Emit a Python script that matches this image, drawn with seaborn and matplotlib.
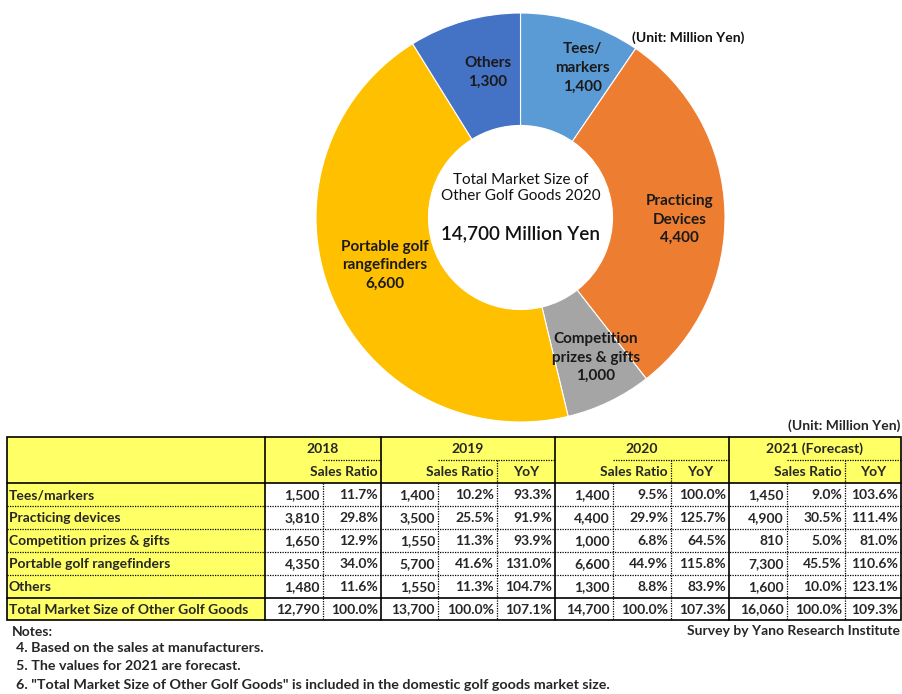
import matplotlib
matplotlib.use("Agg")
import matplotlib.pyplot as plt
import seaborn as sns

sns.set_style("white")
plt.rcParams['font.family'] = ['Lato', 'DejaVu Sans']

# ---------------- data ----------------
pie_labels = ["Tees/\nmarkers", "Practicing\nDevices", "Competition\nprizes & gifts",
              "Portable golf\nrangefinders", "Others"]
pie_values = [1400, 4400, 1000, 6600, 1300]
pie_colors = ["#5B9BD5", "#ED7D31", "#A5A5A5", "#FFC000", "#4472C4"]
center_title = ["Total Market Size of", "Other Golf Goods 2020"]
center_total = "14,700 Million Yen"

categories = ["Tees/markers", "Practicing devices", "Competition prizes & gifts",
              "Portable golf rangefinders", "Others", "Total Market Size of Other Golf Goods"]
years = ["2018", "2019", "2020", "2021 (Forecast)"]
sales_2018 = [1500, 3810, 1650, 4350, 1480, 12790]
ratio_2018 = [11.7, 29.8, 12.9, 34.0, 11.6, 100.0]
sales_2019 = [1400, 3500, 1550, 5700, 1550, 13700]
ratio_2019 = [10.2, 25.5, 11.3, 41.6, 11.3, 100.0]
yoy_2019 = [93.3, 91.9, 93.9, 131.0, 104.7, 107.1]
sales_2020 = [1400, 4400, 1000, 6600, 1300, 14700]
ratio_2020 = [9.5, 29.9, 6.8, 44.9, 8.8, 100.0]
yoy_2020 = [100.0, 125.7, 64.5, 115.8, 83.9, 107.3]
sales_2021 = [1450, 4900, 810, 7300, 1600, 16060]
ratio_2021 = [9.0, 30.5, 5.0, 45.5, 10.0, 100.0]
yoy_2021 = [103.6, 111.4, 81.0, 110.6, 123.1, 109.3]
notes = ["Notes:",
         "4. Based on the sales at manufacturers.",
         "5. The values for 2021 are forecast.",
         "6. \"Total Market Size of Other Golf Goods\" is included in the domestic golf goods market size."]
unit_text = "(Unit: Million Yen)"
source_text = "Survey by Yano Research Institute"

# label nudges in pixels (layout only)
label_nudge = [(16, -1), (4, 7), (8, 0), (8, -12), (10, 4)]

# ---------------- figure ----------------
W, H = 903, 694
fig = plt.figure(figsize=(W / 100, H / 100), dpi=100)
bg = fig.add_axes([0, 0, 1, 1])
bg.set_xlim(0, W)
bg.set_ylim(H, 0)
bg.axis("off")

# donut
cx, cy, R = 520.5, 217.5, 204.5
axp = fig.add_axes([(cx - R) / W, (H - cy - R) / H, 2 * R / W, 2 * R / H])
wedges, texts = axp.pie(
    pie_values, colors=pie_colors, startangle=90, counterclock=False,
    labels=[f"{l}\n{v:,}" for l, v in zip(pie_labels, pie_values)],
    labeldistance=0.76,
    wedgeprops=dict(width=0.55, edgecolor="white", linewidth=0.8),
    textprops=dict(fontsize=11, fontweight="bold", color="#1a1a1a"))
for t, (dx, dy) in zip(texts, label_nudge):
    t.set_ha("center")
    t.set_va("center")
    t.set_linespacing(1.42)
    px, py = t.get_position()
    t.set_position((px + dx / R, py - dy / R))
axp.set_xlim(-1, 1)
axp.set_ylim(-1, 1)
axp.axis("off")

bg.text(cx, 180, center_title[0], ha="center", va="center", fontsize=11, color="#111")
bg.text(cx, 196, center_title[1], ha="center", va="center", fontsize=11, color="#111")
bg.text(cx, 234, center_total, ha="center", va="center", fontsize=13.6, fontweight="semibold", color="#111")
bg.text(632, 38, unit_text, ha="left", va="center", fontsize=10, fontweight="bold", color="#111")

# ---------------- table ----------------
yellow = "#FFFF66"
col_edges = [7, 265, 323, 381, 438, 497, 555, 613, 671, 729, 787, 845, 901]
row_edges = [437, 460, 483, 506, 529, 552, 575, 598, 620]
x0, x1 = col_edges[0], col_edges[-1]
y0, y1 = row_edges[0], row_edges[-1]
fs = 10

bg.add_patch(plt.Rectangle((x0, y0), x1 - x0, row_edges[2] - y0, facecolor=yellow, edgecolor="none"))
bg.add_patch(plt.Rectangle((x0, y0), col_edges[1] - x0, y1 - y0, facecolor=yellow, edgecolor="none"))

lw_s, lw_d = 1.2, 0.9
for y in row_edges[3:7]:
    bg.plot([x0, x1], [y, y], color="black", lw=lw_d, ls=(0, (1, 1)))
groups = [(265, 323, None, 381), (381, 438, 497, 555), (555, 613, 671, 729), (729, 787, 845, 901)]
for (gs, sep1, sep2, ge), yr in zip(groups, years):
    bg.plot([sep1, ge], [row_edges[1]] * 2, color="black", lw=lw_d, ls=(0, (1, 1)))
    bg.plot([sep1, sep1], [row_edges[2], y1], color="black", lw=lw_d, ls=(0, (1, 1)))
    if sep2 is not None:
        bg.plot([sep2, sep2], [row_edges[1], y1], color="black", lw=lw_d, ls=(0, (1, 1)))
    bg.text((gs + ge) / 2, (row_edges[0] + row_edges[1]) / 2 + 0.5, yr, ha="center", va="center",
            fontsize=fs, fontweight="bold")
    ratio_right = sep2 if sep2 is not None else ge
    bg.text(ratio_right - 3, (row_edges[1] + row_edges[2]) / 2 + 0.5, "Sales Ratio", ha="right",
            va="center", fontsize=fs, fontweight="bold")
    if sep2 is not None:
        bg.text((sep2 + ge) / 2, (row_edges[1] + row_edges[2]) / 2 + 0.5, "YoY", ha="center",
                va="center", fontsize=fs, fontweight="bold")
for x in [265, 381, 555, 729]:
    bg.plot([x, x], [y0, y1], color="black", lw=lw_s)
for y in [row_edges[2], row_edges[7]]:
    bg.plot([x0, x1], [y, y], color="black", lw=lw_s)
bg.add_patch(plt.Rectangle((x0, y0), x1 - x0, y1 - y0, facecolor="none", edgecolor="black", lw=lw_s))

cols = [(sales_2018, "n"), (ratio_2018, "p"),
        (sales_2019, "n"), (ratio_2019, "p"), (yoy_2019, "p"),
        (sales_2020, "n"), (ratio_2020, "p"), (yoy_2020, "p"),
        (sales_2021, "n"), (ratio_2021, "p"), (yoy_2021, "p")]
col_rights = [323, 381, 438, 497, 555, 613, 671, 729, 787, 845, 901]
for i, cat in enumerate(categories):
    yc = (row_edges[i + 2] + row_edges[i + 3]) / 2 + 0.5
    bg.text(9, yc, cat, ha="left", va="center", fontsize=fs, fontweight="bold")
    for (vals, kind), xr in zip(cols, col_rights):
        s = f"{vals[i]:,}" if kind == "n" else f"{vals[i]:.1f}%"
        bg.text(xr - 3, yc, s, ha="right", va="center", fontsize=fs, fontweight="bold")

bg.text(900, 426, unit_text, ha="right", va="center", fontsize=10, fontweight="bold")
bg.text(900, 631, source_text, ha="right", va="center", fontsize=10, fontweight="bold")
bg.text(12, 632, notes[0], ha="left", va="center", fontsize=10, fontweight="bold")
for k, ny in enumerate([648, 666, 685]):
    bg.text(16, ny, notes[k + 1], ha="left", va="center", fontsize=10.3, fontweight="bold")

fig.savefig("out.png", dpi=100)
